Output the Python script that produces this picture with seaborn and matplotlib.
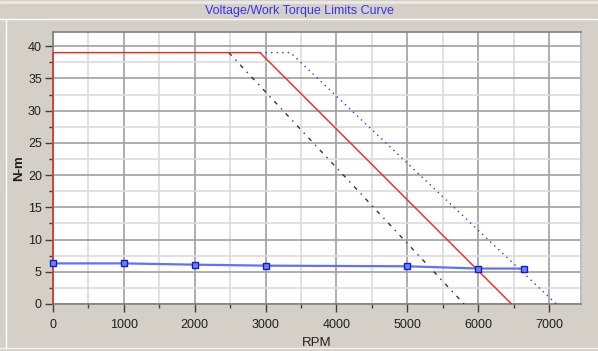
import matplotlib
matplotlib.use("Agg")
import matplotlib.pyplot as plt
import seaborn as sns
import pandas as pd
from matplotlib.ticker import MultipleLocator
from matplotlib.lines import Line2D

# curve data (RPM, N-m)
work_rpm = [0, 0, 2920, 6470]
work_nm = [0, 39, 39, 0]

volt_hi_rpm = [2920, 3350, 7100]
volt_hi_nm = [39, 39, 0]

volt_lo_rpm = [2480, 5800]
volt_lo_nm = [39, 0]

meas_rpm = [0, 1000, 2000, 3000, 5000, 6000, 6650]
meas_nm = [6.3, 6.3, 6.1, 5.95, 5.85, 5.5, 5.5]

title = "Voltage/Work Torque Limits Curve"
panel_bg = "#d4d0c8"

sns.set_style("white")
plt.rcParams["font.family"] = ["Liberation Sans", "DejaVu Sans"]

fig = plt.figure(figsize=(5.98, 3.51), dpi=100, facecolor=panel_bg)
ax = fig.add_axes([53 / 598, 1 - 304 / 351, 528 / 598, 272 / 351])
ax.set_facecolor("white")

df_work = pd.DataFrame({"rpm": work_rpm, "nm": work_nm})
df_hi = pd.DataFrame({"rpm": volt_hi_rpm, "nm": volt_hi_nm})
df_lo = pd.DataFrame({"rpm": volt_lo_rpm, "nm": volt_lo_nm})
df_meas = pd.DataFrame({"rpm": meas_rpm, "nm": meas_nm})

sns.lineplot(data=df_lo, x="rpm", y="nm", ax=ax, sort=False, estimator=None,
             color="#4a2a2a", linewidth=1.0, linestyle=(0, (3, 4, 1, 4)), zorder=3)
sns.lineplot(data=df_hi, x="rpm", y="nm", ax=ax, sort=False, estimator=None,
             color="#3030ff", linewidth=1.0, linestyle=(0, (1, 3)), zorder=3)
sns.lineplot(data=df_work, x="rpm", y="nm", ax=ax, sort=False, estimator=None,
             color="#ff2020", linewidth=1.0, zorder=4, clip_on=False)
sns.lineplot(data=df_meas, x="rpm", y="nm", ax=ax, sort=False, estimator=None,
             color="#6070ff", linewidth=1.6, marker="s", markersize=5,
             markerfacecolor="#7080ff", markeredgecolor="#1020c0",
             markeredgewidth=1.0, zorder=5, clip_on=False)

ax.set_xlim(0, 7450)
ax.set_ylim(0, 42.2)
ax.xaxis.set_major_locator(MultipleLocator(1000))
ax.xaxis.set_minor_locator(MultipleLocator(500))
ax.yaxis.set_major_locator(MultipleLocator(5))
ax.yaxis.set_minor_locator(MultipleLocator(2.5))
ax.grid(which="major", color="#a0a0a0", linewidth=1.2)
ax.grid(which="minor", color="#dcdcdc", linewidth=1.2)
ax.set_axisbelow(True)

ax.tick_params(which="major", direction="out", length=6, width=1, color="#404040",
               labelsize=9, labelcolor="#202020", bottom=True, left=True)
ax.tick_params(axis="x", which="major", pad=5)
ax.tick_params(axis="y", which="major", pad=2)
ax.tick_params(which="minor", direction="out", length=3, width=1, color="#404040",
               bottom=True, left=True)

for side in ["left", "top", "bottom"]:
    ax.spines[side].set_color("#808080")
    ax.spines[side].set_linewidth(1.2)
ax.spines["right"].set_color("#c0c0c0")
ax.spines["right"].set_linewidth(1.5)

ax.set_xlabel("RPM", fontsize=9.5, color="#202020", labelpad=4)
ax.set_ylabel("N-m", fontsize=9.5, fontweight="bold", color="#202020", labelpad=2)

fig.text(0.5, 1 - 11 / 351, title, ha="center", va="center", fontsize=9,
         color="#3535f0")

# window frame lines
fig.add_artist(Line2D([0, 1], [1 - 19 / 351] * 2, color="white", linewidth=1))
fig.add_artist(Line2D([6 / 598] * 2, [3 / 351, 1 - 19 / 351], color="white", linewidth=1))
fig.add_artist(Line2D([0, 1], [3 / 351] * 2, color="#f4f2ee", linewidth=1))
fig.add_artist(Line2D([0, 1], [1 - 1.5 / 351] * 2, color="#ece9e4", linewidth=2))

fig.savefig("out.png", dpi=100, facecolor=panel_bg)
